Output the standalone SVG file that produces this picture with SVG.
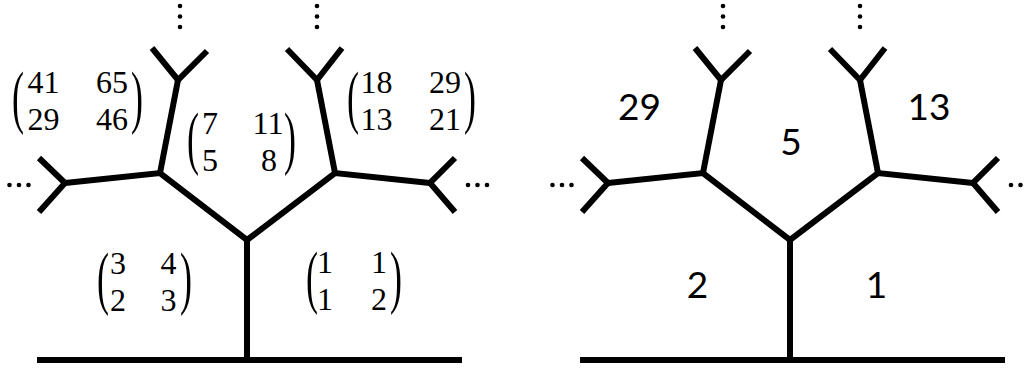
<svg xmlns="http://www.w3.org/2000/svg" xmlns:xlink="http://www.w3.org/1999/xlink" width="1027" height="369" viewBox="0 0 1027 369">
  <style>
    .edge { fill: none; stroke: #000; stroke-width: 6; stroke-linecap: butt; stroke-linejoin: miter; }
    .dot { fill: #000; }
    .mx { font-family: "Liberation Serif", "Times New Roman", serif; font-size: 32px; fill: #000; text-anchor: middle; }
    .par { font-family: "Liberation Serif", "Times New Roman", serif; font-size: 30px; fill: #000; text-anchor: middle; }
    .num { font-family: "Lato", "Noto Sans", sans-serif; font-size: 37px; fill: #000; text-anchor: middle; }
  </style>
  <defs>
    <!-- branching skeleton shared by both trees -->
    <g id="tree">
      <path class="edge" d="M37,360 H462"/>
      <path class="edge" d="M247,360 V240"/>
      <path class="edge" d="M65,183 L160,173 L247,240 L335,173 L430,183"/>
      <path class="edge" d="M160,173 L178,80"/>
      <path class="edge" d="M335,173 L317,80"/>
      <path class="edge" d="M152,48 L178,80 L207,51"/>
      <path class="edge" d="M287,49 L317,80 L342,48"/>
      <path class="edge" d="M39,158 L65,183 L39,212"/>
      <path class="edge" d="M455,158 L430,183 L455,212"/>
      <!-- continuation dots -->
      <circle class="dot" cx="180" cy="6" r="2.3"/>
      <circle class="dot" cx="180" cy="16.5" r="2.3"/>
      <circle class="dot" cx="180" cy="27" r="2.3"/>
      <circle class="dot" cx="317" cy="6" r="2.3"/>
      <circle class="dot" cx="317" cy="16.5" r="2.3"/>
      <circle class="dot" cx="317" cy="27" r="2.3"/>
      <circle class="dot" cx="9.5" cy="185" r="2.3"/>
      <circle class="dot" cx="19" cy="185" r="2.3"/>
      <circle class="dot" cx="28.5" cy="185" r="2.3"/>
      <circle class="dot" cx="468" cy="185" r="2.3"/>
      <circle class="dot" cx="477.5" cy="185" r="2.3"/>
      <circle class="dot" cx="487" cy="185" r="2.3"/>
    </g>
  </defs>

  <!-- left tree: matrices -->
  <g id="matrix-tree">
    <use xlink:href="#tree" href="#tree"/>
    <g id="m-41-65">
      <text class="par" transform="translate(18,120) scale(1.2,2.35)">(</text>
      <text class="mx" x="43.5" y="93">41</text>
      <text class="mx" x="112" y="93">65</text>
      <text class="mx" x="43.5" y="129.5">29</text>
      <text class="mx" x="112" y="129.5">46</text>
      <text class="par" transform="translate(137,120) scale(1.2,2.35)">)</text>
    </g>
    <g id="m-7-11">
      <text class="par" transform="translate(193,161) scale(1.2,2.35)">(</text>
      <text class="mx" x="210" y="133.5">7</text>
      <text class="mx" x="268" y="133.5">11</text>
      <text class="mx" x="210" y="171">5</text>
      <text class="mx" x="269" y="171">8</text>
      <text class="par" transform="translate(290,161) scale(1.2,2.35)">)</text>
    </g>
    <g id="m-18-29">
      <text class="par" transform="translate(353,120) scale(1.2,2.35)">(</text>
      <text class="mx" x="376.5" y="93">18</text>
      <text class="mx" x="445" y="93">29</text>
      <text class="mx" x="376.5" y="129.5">13</text>
      <text class="mx" x="445" y="129.5">21</text>
      <text class="par" transform="translate(470,120) scale(1.2,2.35)">)</text>
    </g>
    <g id="m-3-4">
      <text class="par" transform="translate(103,301) scale(1.2,2.35)">(</text>
      <text class="mx" x="118" y="273.5">3</text>
      <text class="mx" x="168.5" y="273.5">4</text>
      <text class="mx" x="118" y="310.5">2</text>
      <text class="mx" x="168.5" y="310.5">3</text>
      <text class="par" transform="translate(186,301) scale(1.2,2.35)">)</text>
    </g>
    <g id="m-1-1">
      <text class="par" transform="translate(312,300) scale(1.2,2.35)">(</text>
      <text class="mx" x="325" y="272.5">1</text>
      <text class="mx" x="379" y="272.5">1</text>
      <text class="mx" x="325" y="309.5">1</text>
      <text class="mx" x="379" y="309.5">2</text>
      <text class="par" transform="translate(396,300) scale(1.2,2.35)">)</text>
    </g>
  </g>

  <!-- right tree: numbers -->
  <g id="number-tree">
    <use xlink:href="#tree" href="#tree" transform="translate(543,0)"/>
    <text id="n-29" class="num" x="639.5" y="120">29</text>
    <text id="n-5" class="num" x="791" y="155">5</text>
    <text id="n-13" class="num" x="929" y="120">13</text>
    <text id="n-2" class="num" x="697.5" y="298">2</text>
    <text id="n-1" class="num" x="876.5" y="298">1</text>
  </g>
</svg>
